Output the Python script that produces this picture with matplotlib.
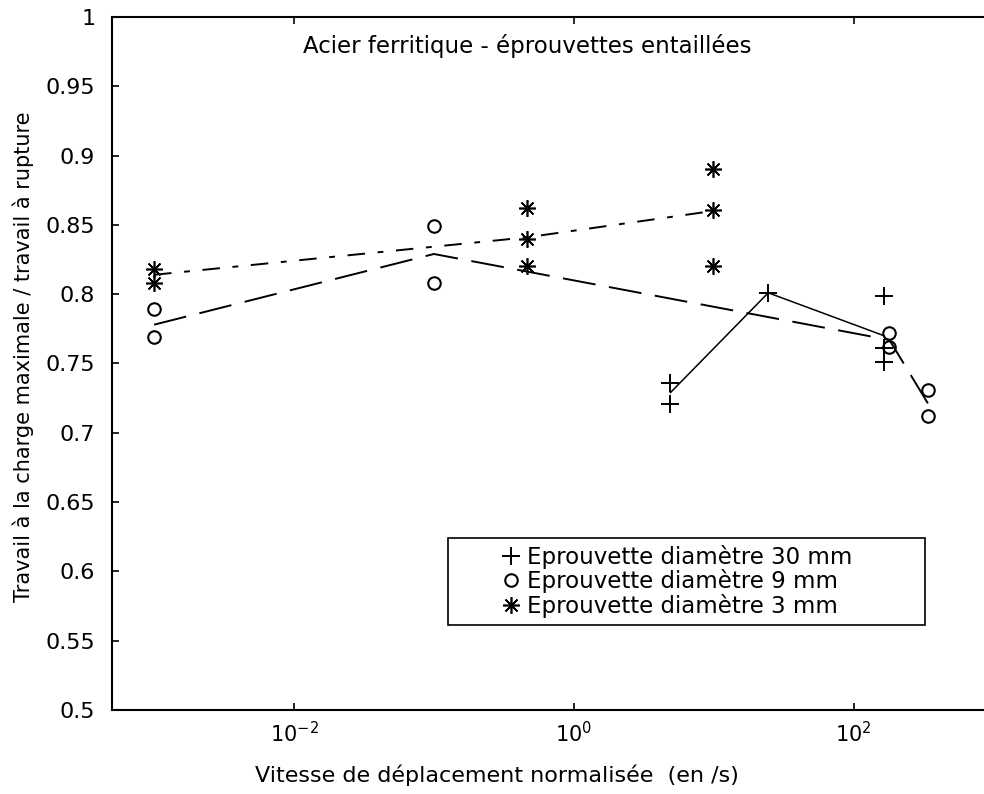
import matplotlib.pyplot as plt
import matplotlib.ticker as mticker

plt.rcParams['font.family'] = ['DejaVu Sans']
plt.rcParams['mathtext.default'] = 'regular'

# Eprouvette diametre 30 mm (+)
x30 = [4.9, 4.9, 24.5, 165, 165, 165]
y30 = [0.736, 0.721, 0.801, 0.799, 0.761, 0.751]
x30_line = [4.9, 24.5, 165]
y30_line = [0.729, 0.801, 0.770]

# Eprouvette diametre 9 mm (o)
x9 = [0.001, 0.001, 0.1, 0.1, 180, 180, 340, 340]
y9 = [0.789, 0.769, 0.849, 0.808, 0.772, 0.762, 0.731, 0.712]
x9_line = [0.001, 0.1, 180, 340]
y9_line = [0.778, 0.829, 0.767, 0.721]

# Eprouvette diametre 3 mm (*)
x3 = [0.001, 0.001, 0.46, 0.46, 0.46, 9.8, 9.8, 9.8]
y3 = [0.818, 0.808, 0.862, 0.840, 0.820, 0.890, 0.861, 0.820]
x3_line = [0.001, 0.46, 9.8]
y3_line = [0.814, 0.841, 0.860]

labels = ['Eprouvette diamètre 30 mm', 'Eprouvette diamètre 9 mm', 'Eprouvette diamètre 3 mm']
yticks = [0.5, 0.55, 0.6, 0.65, 0.7, 0.75, 0.8, 0.85, 0.9, 0.95, 1]
xticks = [1e-2, 1, 1e2]

fig = plt.figure(figsize=(9.84, 7.94), dpi=100)
ax = fig.add_axes([0.1138, 0.1058, 0.896, 0.8728])

asterisk = (8, 2, 0)
ax.plot(x30, y30, linestyle='none', marker='+', color='k', markersize=13, markeredgewidth=1.4, label=labels[0])
ax.plot(x9, y9, linestyle='none', marker='o', color='k', markerfacecolor='none', markersize=9, markeredgewidth=1.5, label=labels[1])
ax.plot(x3, y3, linestyle='none', marker=asterisk, color='k', markersize=12, markeredgewidth=1.2, label=labels[2])

ax.plot(x30_line, y30_line, '-', color='k', linewidth=1.1)
ax.plot(x9_line, y9_line, '--', color='k', linewidth=1.4, dashes=(17, 7))
ax.plot(x3_line, y3_line, '-.', color='k', linewidth=1.4, dashes=(9, 6.5, 3, 6.5))

ax.set_xscale('log')
ax.set_xlim(5e-4, 1e3)
ax.set_ylim(0.5, 1)
ax.set_xticks(xticks)
ax.xaxis.set_minor_locator(mticker.NullLocator())
ax.set_yticks(yticks)
ax.yaxis.set_major_formatter(mticker.FormatStrFormatter('%g'))
ax.tick_params(direction='in', length=5, width=1.2, top=True, right=False)
ax.tick_params(axis='x', pad=8, labelsize=15)
ax.tick_params(axis='y', pad=12, labelsize=16)
for s in ax.spines.values():
    s.set_linewidth(1.5)
ax.spines['right'].set_visible(False)

ax.set_xlabel('Vitesse de déplacement normalisée  (en /s)', fontsize=16)
ax.xaxis.set_label_coords(0.437, -0.078)
ax.set_ylabel('Travail à la charge maximale / travail à rupture', fontsize=15)
ax.yaxis.set_label_coords(-0.088, 0.51)
ax.text(0.471, 0.958, 'Acier ferritique - éprouvettes entaillées', transform=ax.transAxes,
        ha='center', va='center', fontsize=16.5)

leg = ax.legend(loc='upper left', bbox_to_anchor=(0.381, 0.115, 0.541, 0.133), mode='expand',
                fontsize=16.5, frameon=True, fancybox=False, edgecolor='k', framealpha=1,
                handlelength=4.9, handletextpad=-1.75, labelspacing=0.02,
                borderpad=0.3, borderaxespad=0)
leg.get_frame().set_linewidth(1.2)

fig.savefig('out.png', dpi=100)
